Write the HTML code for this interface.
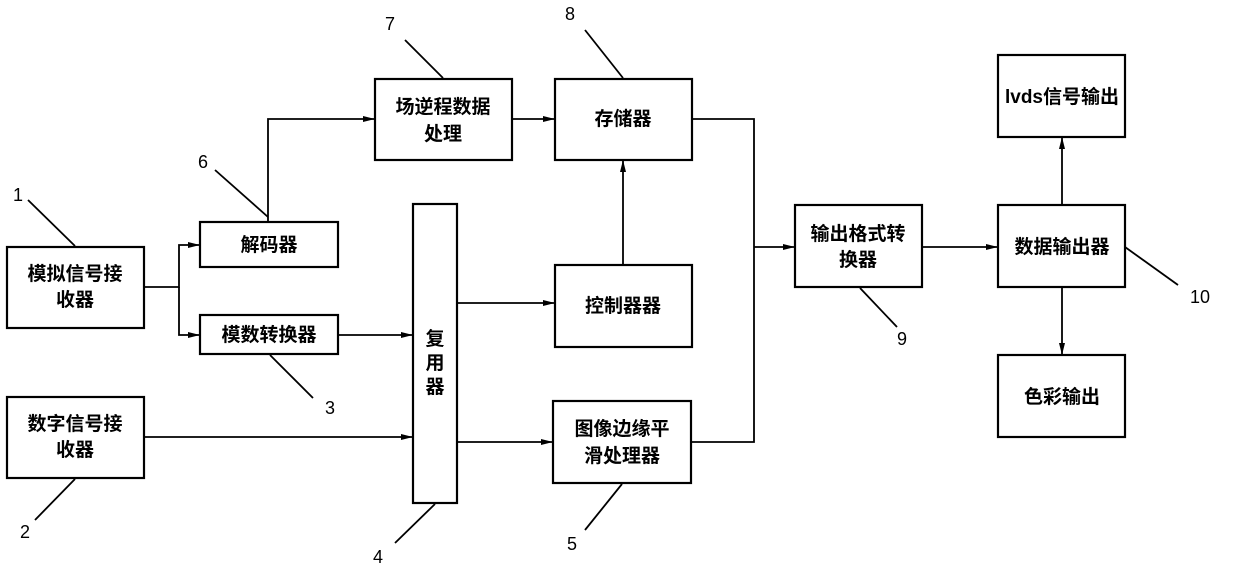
<!DOCTYPE html>
<html><head><meta charset="utf-8"><style>
html,body{margin:0;padding:0;background:#fff;}
svg{display:block;}
text{font-family:"Liberation Sans","Noto Sans CJK SC",sans-serif;fill:#000;}
.t{font-size:19px;font-weight:bold;text-anchor:middle;}
.n{font-size:18px;text-anchor:middle;}
</style></head><body>
<svg width="1240" height="572" viewBox="0 0 1240 572" xmlns="http://www.w3.org/2000/svg">
<defs><marker id="a" markerWidth="12" markerHeight="8" refX="11" refY="4" orient="auto" markerUnits="userSpaceOnUse"><path d="M0,1 L12,4 L0,7 Z" fill="#000"/></marker></defs>
<g fill="none" stroke="#000" stroke-width="2.2">
<rect x="7" y="247" width="137" height="81"/>
<rect x="7" y="397" width="137" height="81"/>
<rect x="200" y="222" width="138" height="45"/>
<rect x="200" y="315" width="138" height="39"/>
<rect x="413" y="204" width="44" height="299"/>
<rect x="375" y="79" width="137" height="81"/>
<rect x="555" y="79" width="137" height="81"/>
<rect x="555" y="265" width="137" height="82"/>
<rect x="553" y="401" width="138" height="82"/>
<rect x="795" y="205" width="127" height="82"/>
<rect x="998" y="205" width="127" height="82"/>
<rect x="998" y="55" width="127" height="82"/>
<rect x="998" y="355" width="127" height="82"/>
</g>
<g fill="none" stroke="#000" stroke-width="1.8">
<path d="M144,287 H179 V245 H199" marker-end="url(#a)"/>
<path d="M179,287 V335 H199" marker-end="url(#a)"/>
<path d="M338,335 H412" marker-end="url(#a)"/>
<path d="M144,437 H412" marker-end="url(#a)"/>
<path d="M268,222 V119 H374" marker-end="url(#a)"/>
<path d="M512,119 H554" marker-end="url(#a)"/>
<path d="M457,303 H554" marker-end="url(#a)"/>
<path d="M457,442 H552" marker-end="url(#a)"/>
<path d="M623,265 V161" marker-end="url(#a)"/>
<path d="M692,119 H754 V442 H691"/>
<path d="M754,247 H794" marker-end="url(#a)"/>
<path d="M922,247 H997" marker-end="url(#a)"/>
<path d="M1062,205 V138" marker-end="url(#a)"/>
<path d="M1062,287 V354" marker-end="url(#a)"/>
<path d="M28,200 L75,246"/>
<path d="M215,170 L268,217"/>
<path d="M405,40 L443,78"/>
<path d="M585,30 L623,78"/>
<path d="M270,355 L313,398"/>
<path d="M75,479 L35,520"/>
<path d="M435,504 L395,543"/>
<path d="M622,484 L585,530"/>
<path d="M860,288 L897,327"/>
<path d="M1125,247 L1178,285"/>
</g>
<text class="t" x="75" y="280">模拟信号接</text>
<text class="t" x="75" y="306">收器</text>
<text class="t" x="75" y="430">数字信号接</text>
<text class="t" x="75" y="456">收器</text>
<text class="t" x="269" y="251">解码器</text>
<text class="t" x="269" y="341">模数转换器</text>
<text class="t" x="435" y="345">复</text>
<text class="t" x="435" y="369">用</text>
<text class="t" x="435" y="393">器</text>
<text class="t" x="443" y="113">场逆程数据</text>
<text class="t" x="443" y="140">处理</text>
<text class="t" x="623" y="125">存储器</text>
<text class="t" x="623" y="312">控制器器</text>
<text class="t" x="622" y="435">图像边缘平</text>
<text class="t" x="622" y="462">滑处理器</text>
<text class="t" x="858" y="240">输出格式转</text>
<text class="t" x="858" y="266">换器</text>
<text class="t" x="1062" y="253">数据输出器</text>
<text class="t" x="1062" y="103">lvds信号输出</text>
<text class="t" x="1062" y="403">色彩输出</text>
<text class="n" x="18" y="201">1</text>
<text class="n" x="25" y="538">2</text>
<text class="n" x="330" y="414">3</text>
<text class="n" x="378" y="563">4</text>
<text class="n" x="572" y="550">5</text>
<text class="n" x="203" y="168">6</text>
<text class="n" x="390" y="30">7</text>
<text class="n" x="570" y="20">8</text>
<text class="n" x="902" y="345">9</text>
<text class="n" x="1200" y="303">10</text>
</svg>
</body></html>
